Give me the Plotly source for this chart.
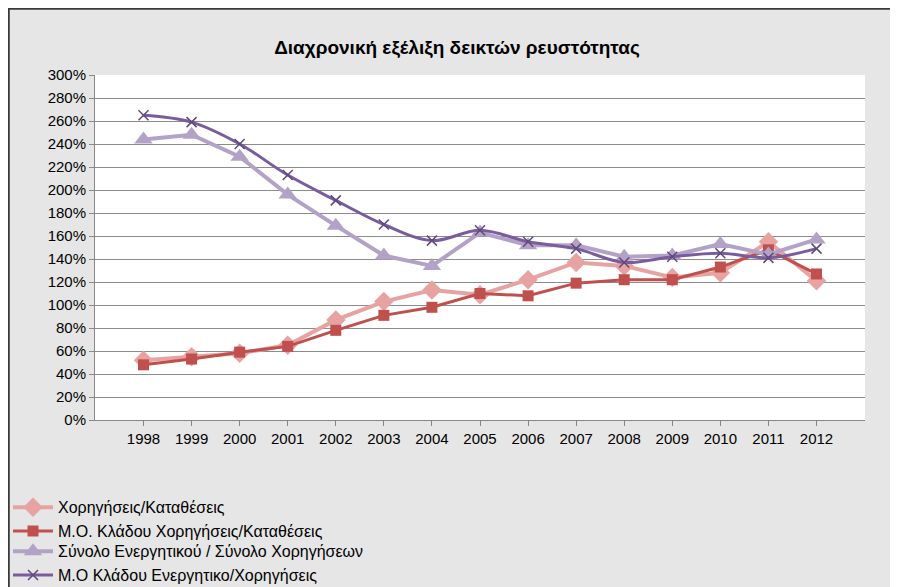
import plotly.graph_objects as go

years = [str(y) for y in range(1998, 2013)]
xorig = [52, 55, 58, 65, 87, 103, 113, 109, 122, 137, 134, 124, 128, 155, 121]
mo_xorig = [48, 53, 59, 64, 78, 91, 98, 110, 108, 119, 122, 122, 133, 148, 127]
synolo = [244, 248, 229, 196, 169, 143, 134, 163, 152, 152, 142, 143, 153, 144, 157]
mo_energ = [265, 259, 240, 213, 191, 170, 156, 165, 155, 149, 137, 142, 145, 141, 149]

def pct(v):
    return [x / 100 for x in v]

fig = go.Figure()
fig.add_trace(go.Scatter(x=years, y=pct(xorig), name="Χορηγήσεις/Καταθέσεις", mode="lines+markers", legend="legend",
                         line=dict(color="#e6a3a1", width=4), marker=dict(symbol="diamond", size=15, color="#e6a3a1")))
fig.add_trace(go.Scatter(x=years, y=pct(mo_xorig), name="Μ.Ο. Κλάδου Χορηγήσεις/Καταθέσεις", mode="lines+markers", legend="legend",
                         line=dict(color="#c0504d", width=3), marker=dict(symbol="square", size=11, color="#c0504d")))
fig.add_trace(go.Scatter(x=years, y=pct(synolo), name="Σύνολο Ενεργητικού / Σύνολο Χορηγήσεων", mode="lines+markers", legend="legend2",
                         line=dict(color="#b3a2c7", width=4), marker=dict(symbol="triangle-up", size=16, color="#b3a2c7")))
fig.add_trace(go.Scatter(x=years, y=pct(mo_energ), name="Μ.Ο Κλάδου Ενεργητικο/Χορηγήσεις", mode="lines+markers", legend="legend2",
                         line=dict(color="#7a5c9e", width=3, shape="spline"), marker=dict(symbol="x-thin", size=10, line=dict(color="#5f4a7a", width=1.5))))

W = 898 - 87 - 41
H = 587 - 67 - 175
leg = dict(orientation="h", xref="container", yref="container", x=0.0, xanchor="left", yanchor="middle",
           entrywidth=448, entrywidthmode="pixels", itemwidth=40, font=dict(size=16), bgcolor="rgba(0,0,0,0)")
fig.update_layout(
    width=898, height=587,
    paper_bgcolor="#e6e6e6", plot_bgcolor="#ffffff",
    margin=dict(l=87, r=41, t=67, b=175),
    font=dict(family="Liberation Sans", size=15, color="#000000"),
    title=dict(text="<b>Διαχρονική εξέλιξη δεικτών ρευστότητας</b>", x=0.5, y=0.945, xanchor="center",
               font=dict(size=19, family="Liberation Sans")),
    xaxis=dict(showgrid=False, showline=True, linecolor="#888", ticks="outside", tickcolor="#888",
               tickfont=dict(size=15)),
    yaxis=dict(range=[0, 3], dtick=0.2, tickformat=".0%", showgrid=True, gridcolor="#8c8c8c",
               showline=True, linecolor="#888", ticks="outside", tickcolor="#888", tickfont=dict(size=15), zeroline=False),
    legend=dict(leg, y=0.129),
    legend2=dict(leg, y=0.054),
    shapes=[dict(type="rect", xref="paper", yref="paper", x0=-87 / W + 0.001, x1=1 + 41 / W - 0.001,
                 y0=-175 / H + 0.002, y1=1 + 67 / H - 0.002, line=dict(color="#3a3a3a", width=2), layer="below")],
)
fig.write_html("out.html")
